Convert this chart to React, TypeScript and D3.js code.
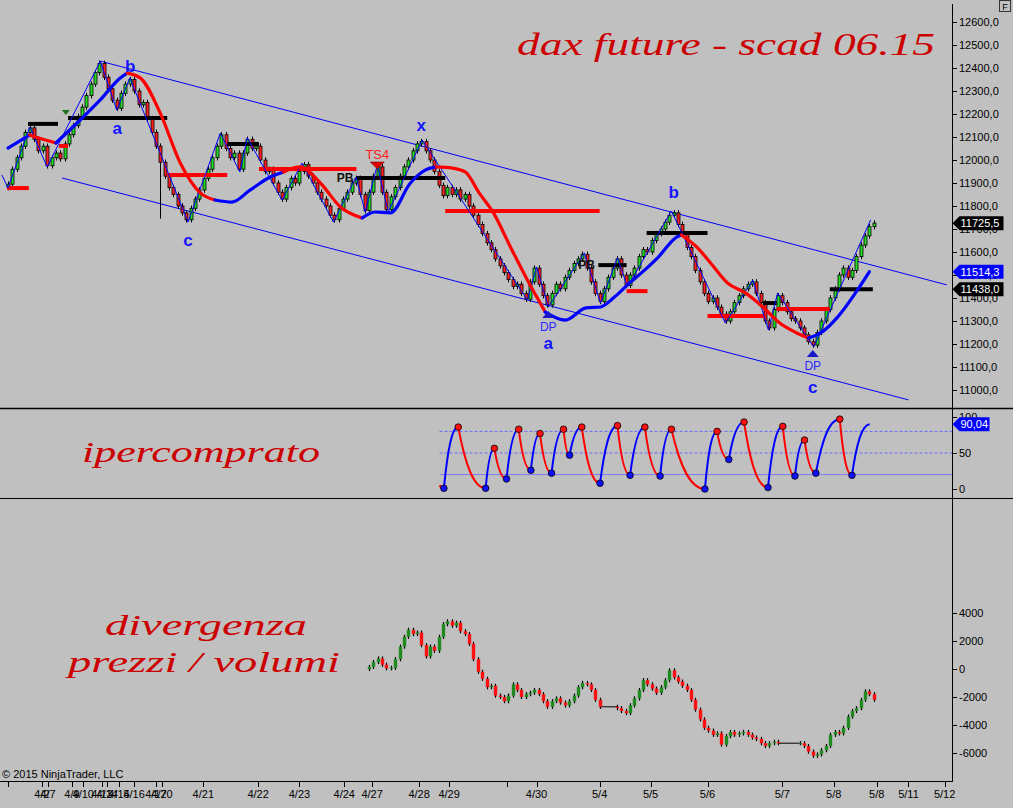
import React from 'react';
import * as d3 from 'd3';

// ---------- DATA ----------
const closes: number[] = [
  11895, 11960, 12010, 12060, 12120, 12140, 12090, 12040, 12060, 11975,
  12010, 12030, 12005, 12070, 12110, 12150, 12190, 12230, 12280, 12330, 12380, 12420,
  12360, 12310, 12260, 12225, 12290, 12330, 12350,
  12300, 12240, 12250, 12180, 12120, 12060, 11990, 11930, 11880, 11850, 11800, 11770, 11740,
  11790, 11830, 11870, 11920, 11960, 12010, 12060, 12110,
  12050, 12010, 12030, 11960, 12030, 12090,
  12050, 12060, 12000, 11950, 11960, 11900, 11860, 11830,
  11880, 11920, 11900, 11950, 11980,
  11930, 11900, 11860, 11830, 11800, 11760, 11740,
  11790, 11830, 11860, 11900, 11920,
  11850, 11780,
  11860, 11930, 11970,
  11860, 11785,
  11840, 11880, 11930, 11970, 12000, 12040, 12070, 12080,
  12040, 12000, 11950, 11890, 11845,
  11880, 11850, 11870, 11830, 11850, 11800,
  11760, 11720, 11680, 11640, 11610, 11570, 11540, 11510, 11480, 11450, 11460, 11420, 11395,
  11470, 11530,
  11460, 11410, 11370,
  11420, 11460, 11440, 11490, 11520, 11550, 11570, 11590,
  11530, 11470, 11420, 11385,
  11440, 11490, 11530, 11570,
  11500, 11455,
  11500, 11530, 11580, 11610, 11600, 11650, 11680, 11700, 11730, 11760, 11770,
  11720, 11680, 11620, 11580, 11520, 11470, 11420, 11385,
  11400, 11360, 11330, 11300,
  11340, 11380, 11410, 11440, 11460, 11470,
  11420, 11380, 11300, 11270,
  11350, 11410,
  11380, 11340, 11310, 11300, 11270, 11240, 11210, 11195,
  11250, 11300, 11350, 11400, 11440, 11500, 11530,
  11490, 11520, 11580, 11630, 11670, 11710, 11725.5,
];
const firstOpen = 11880;
const longWickBars = [35];
const longWickLows = [11745];

const priceTickValues = [11000, 11100, 11200, 11300, 11400, 11500, 11600, 11700, 11800, 11900, 12000, 12100, 12200, 12300, 12400, 12500, 12600];
const oscTickValues = [0, 50, 100];
const volTickValues = [4000, 2000, 0, -2000, -4000, -6000];

const dateTickIdx = [0, 7.8, 9.2, 14.7, 17.3, 21.6, 22.8, 25.5, 29, 34, 35.4, 44.9, 57.5, 67, 77.3, 83.7, 94.5, 101.4, 114.8, 121.5, 136, 147.7, 160.8, 178, 189.8, 199.7, 207, 215.3];
const dateTickLabels = ['', '4/2', '4/7', '4/9', '4/10', '4/13', '4/14', '4/15', '4/16', '4/17', '4/20', '4/21', '4/22', '4/23', '4/24', '4/27', '4/28', '4/29', '', '4/30', '5/4', '5/5', '5/6', '5/7', '5/8', '5/8', '5/11', '5/12'];

const channelUpper: [number, number][] = [[21.2, 12430], [215.8, 11457]];
const channelLower: [number, number][] = [[12.4, 11922], [207, 10957]];

const zigzag: [number, number][] = [
  [-1.4, 11935], [0, 11878], [5, 12143], [9, 11970], [21.2, 12430], [25, 12217], [28, 12357], [41.4, 11730],
  [48.8, 12117], [53.3, 11948], [55, 12096], [63, 11826], [67.6, 11987], [74.8, 11730], [80, 11926],
  [82.1, 11774], [84.9, 11978], [87.4, 11774], [95.2, 12087], [119.4, 11391], [121.5, 11535],
  [124.2, 11361], [132.5, 11596], [136.2, 11378], [140.1, 11574], [142.4, 11448], [152.5, 11778],
  [164.9, 11291], [171.2, 11478], [174.8, 11261], [176.9, 11422], [185.2, 11187], [198.3, 11740],
];

const maColors = ['blue', 'red', 'blue', 'red', 'blue', 'red', 'blue', 'red', 'blue', 'red', 'blue'];
const maPoints: [number, number][][] = [
  [[0, 12052], [5, 12109]],
  [[5, 12109], [8, 12090], [11, 12074]],
  [[11, 12074], [16.6, 12174], [21.2, 12261], [25.8, 12357], [27.4, 12378]],
  [[27.4, 12378], [30.4, 12357], [35, 12204], [39.6, 11987], [44.2, 11857], [47.6, 11826]],
  [[47.6, 11826], [51.5, 11817], [55.7, 11870], [60.3, 11926], [63.3, 11948]],
  [[63.3, 11948], [67.2, 11970], [71.8, 11900], [76.4, 11796], [81.4, 11748]],
  [[81.4, 11748], [84.4, 11774], [87.9, 11770], [92.5, 11900], [96, 11957], [98.5, 11970]],
  [[98.5, 11970], [102.2, 11965], [105.1, 11948], [108.3, 11857], [111.6, 11770], [115.5, 11622], [119.4, 11478], [123.5, 11339]],
  [[123.5, 11339], [128.1, 11304], [132.9, 11357], [136.2, 11361], [139.4, 11404], [142.4, 11457], [145.6, 11509], [149.5, 11578], [153.7, 11665], [154.8, 11674]],
  [[154.8, 11674], [158.3, 11622], [161.5, 11552], [165.4, 11465], [169.5, 11422], [173.5, 11361], [177.4, 11291], [181.3, 11248], [184, 11226]],
  [[184, 11226], [186.8, 11248], [190.7, 11317], [194.8, 11422], [198, 11514.3]],
];

const levelFrom = [-0.2, 4.6, 11.7, 13.8, 36.6, 50.4, 57.7, 80.1, 100.5, 135.7, 142.2, 146.8, 160.8, 173.5, 176.7, 188.9];
const levelTo = [4.8, 11.5, 13.8, 36.6, 50.4, 57.7, 80.1, 100.5, 136, 142.2, 147, 160.8, 174.1, 176.7, 188.9, 198.8];
const levelPrice = [11878, 12157, 12061, 12183, 11935, 12070, 11961, 11922, 11778, 11543, 11430, 11683, 11322, 11378, 11352, 11438];
const levelColor = ['red', 'black', 'red', 'black', 'red', 'black', 'red', 'black', 'red', 'black', 'red', 'black', 'red', 'black', 'red', 'black'];

const waveLabels = ['b', 'a', 'c', 'x', 'a', 'b', 'c'];
const waveIdx = [28.1, 25.1, 41.4, 95, 124.2, 153, 185];
const wavePrice = [12409, 12139, 11652, 12152, 11204, 11861, 11013];

const dpIdx = [124.2, 185];
const dpPrice = [11326, 11157];
const pbIdx = [77.5, 133];
const pbPrice = [11922, 11543];
const ts4 = { idx: 84.9, price: 11974 };
const greenMark = { idx: 13.3, price: 12209 };

const maLast = 11514.3;
const levelLast = 11438;

const oscPivots: [number, number][] = [
  [99.2, 5], [100.2, 1], [103.5, 86], [109.8, 1], [111.8, 56.5], [114.6, 14], [117.4, 83], [120.2, 26],
  [122.3, 77], [124.95, 22], [127.7, 83], [129.1, 47], [131.9, 86], [136.1, 8], [140.1, 88], [143, 19],
  [146.4, 86], [149.9, 18], [152.5, 83], [160.2, 0], [163, 80], [165.7, 41], [169.2, 93], [174.7, 2],
  [178.1, 87], [180.9, 18], [183.1, 68], [185.7, 22], [191.2, 97], [194, 19], [198.1, 90.04],
];
const oscLevelsDashed = [80, 50];
const oscLevelSolid = 20;

const volStart = 83;
const volValues: (number | null)[] = [
  150, 500, 750, 300, 50, 80, 700, 1600, 2300, 2800, 2500, 2600, 1700, 900, 1600, 1300, 2300,
  3200, 3400, 3100, 3300, 2700, 2500, 1800, 700, -200, -700, -1300, -1200, -1900, -2000, -2300, -1900, -1100, -1500, -2000, -1800,
  -1700, -1500, -1800, -2300, -2700, -2300, -2100, -2400, -2600, -2300, -1900, -1300, -1000, -1100, -1500, -2200, -2700, null, null, null,
  -2800, -3000, -3150, -2600, -2100, -1500, -800, -1100, -1400, -1700, -1300, -800, -100, -600, -900, -1200, -1500, -2200, -2900, -3600,
  -4200, -4400, -4700, -4600, -5400, -4800, -4500, -4700, -4600, -4500, -4700, -4900, -5000, -5300, -5500, -5300, -5200, -5300, null, null,
  null, null, -5300, -5500, -5900, -6200, -6100, -5800, -5500, -4700, -4500, -4600, -4200, -3400, -3000, -2800, -2200, -1600, -1800, -2200,
];

// ---------- LAYOUT ----------
const W = 1013;
const H = 808;
const AXIS_X = 952;
const sans = "'Liberation Sans', Arial, Helvetica, sans-serif";
const script = "'Liberation Serif', 'DejaVu Serif', serif";
const BLUE = '#0000ff';
const RED = '#ff0000';

const x = d3.scaleLinear().domain([0, 217]).range([8, AXIS_X]);
const py = d3.scaleLinear().domain([11000, 12600]).range([390, 22]);
const oy = d3.scaleLinear().domain([0, 100]).range([489, 417]);
const vy = d3.scaleLinear().domain([-6000, 4000]).range([753, 613]);

const fmt1 = (v: number) => v.toFixed(1).replace('.', ',');
const fmt2 = (v: number) => v.toFixed(2).replace('.', ',');

function Tag({ y, text, fill, w }: { y: number; text: string; fill: string; w: number }) {
  const x0 = AXIS_X + 0.5;
  return (
    <g>
      <path d={`M${x0},${y} L${x0 + 7},${y - 7} L${x0 + w},${y - 7} L${x0 + w},${y + 7} L${x0 + 7},${y + 7} Z`} fill={fill} />
      <text x={x0 + 8} y={y} dy="0.36em" fill="#fff" fontSize={11} fontFamily={sans}>{text}</text>
    </g>
  );
}

export default function App() {
  const lineP = d3.line<[number, number]>().x(d => x(d[0])).y(d => py(d[1]));
  const maLine = d3.line<[number, number]>().x(d => x(d[0])).y(d => py(d[1])).curve(d3.curveMonotoneX);

  const wick = 12;
  const candles = closes.map((c, i) => {
    const o = i === 0 ? firstOpen : closes[i - 1];
    const hi = Math.max(o, c) + wick;
    let lo = Math.min(o, c) - wick;
    const k = longWickBars.indexOf(i);
    if (k >= 0) lo = longWickLows[k];
    return { i, o, c, hi, lo };
  });

  // volume divergence bars
  const volBars: { i: number; o: number; c: number }[] = [];
  const volGaps: { a: number; b: number; v: number }[] = [];
  let last: number | null = null;
  let lastIdx = -1;
  let inGap = false;
  volValues.forEach((v, k) => {
    const i = volStart + k;
    if (v === null) {
      inGap = true;
      return;
    }
    if (inGap && last !== null) {
      volGaps.push({ a: lastIdx, b: i, v: last });
    }
    inGap = false;
    const o = last === null ? 0 : last;
    volBars.push({ i, o, c: v });
    last = v;
    lastIdx = i;
  });

  const oscSeg = (p0: [number, number], p1: [number, number]) => {
    const x0 = x(p0[0]), y0 = oy(p0[1]), x1 = x(p1[0]), y1 = oy(p1[1]);
    const dx = x1 - x0, dy = y1 - y0;
    const p = d3.path();
    p.moveTo(x0, y0);
    p.bezierCurveTo(x0 + dx * 0.25, y0 + dy * 0.6, x0 + dx * 0.55, y1, x1, y1);
    return p.toString();
  };

  const oscStartX = x(oscPivots[0][0]);
  const lastClose = closes[closes.length - 1];
  const lastOsc = oscPivots[oscPivots.length - 1][1];

  return (
    <svg width={W} height={H} style={{ position: 'absolute', left: 0, top: 0 }} xmlns="http://www.w3.org/2000/svg">
      <defs>
        <clipPath id="clipTop"><rect x={0} y={0} width={AXIS_X} height={408} /></clipPath>
        <clipPath id="clipMid"><rect x={0} y={410} width={AXIS_X} height={88} /></clipPath>
        <clipPath id="clipBot"><rect x={0} y={500} width={AXIS_X} height={281} /></clipPath>
      </defs>
      <rect x={0} y={0} width={W} height={H} fill="#c0c0c0" />

      {/* ---------- TOP PANEL ---------- */}
      <g clipPath="url(#clipTop)">
        <path d={lineP(channelUpper) || ''} stroke={BLUE} strokeWidth={1} fill="none" />
        <path d={lineP(channelLower) || ''} stroke={BLUE} strokeWidth={1} fill="none" />

        {/* candles */}
        {candles.map(d => {
          const cx = Math.round(x(d.i)) + 0.5;
          const top = py(Math.max(d.o, d.c));
          const bot = py(Math.min(d.o, d.c));
          return (
            <g key={d.i}>
              <line x1={cx} x2={cx} y1={py(d.hi)} y2={py(d.lo)} stroke="#000" strokeWidth={1} />
              <rect x={cx - 1.5} y={top} width={3} height={Math.max(1, bot - top)} fill={d.c >= d.o ? '#22dd22' : '#ff2020'} stroke="#000" strokeWidth={0.8} />
            </g>
          );
        })}

        {/* levels */}
        {levelPrice.map((p, k) => (
          <line key={k} x1={x(levelFrom[k])} x2={x(levelTo[k])} y1={py(p)} y2={py(p)} stroke={levelColor[k] === 'red' ? RED : '#000'} strokeWidth={4} />
        ))}

        {/* zigzag */}
        <path d={lineP(zigzag) || ''} stroke={BLUE} strokeWidth={1} fill="none" />

        {/* moving average */}
        {maPoints.map((pts, k) => (
          <path key={k} d={maLine(pts) || ''} stroke={maColors[k] === 'red' ? RED : BLUE} strokeWidth={3.2} fill="none" strokeLinecap="round" />
        ))}

        {/* annotations */}
        {waveLabels.map((t, k) => (
          <text key={k} x={x(waveIdx[k])} y={py(wavePrice[k])} dy="0.35em" textAnchor="middle" fontFamily={sans} fontWeight="bold" fontSize={17} fill="#1414ff">{t}</text>
        ))}
        {dpIdx.map((d, k) => {
          const cx = x(d);
          const ty = py(dpPrice[k]);
          return (
            <g key={k}>
              <path d={`M${cx},${ty - 4} L${cx + 6},${ty + 3} L${cx - 6},${ty + 3} Z`} fill="#1818c8" />
              <text x={cx} y={ty + 12} dy="0.35em" textAnchor="middle" fontFamily={sans} fontSize={12} fill="#2a2aff">DP</text>
            </g>
          );
        })}
        {pbIdx.map((d, k) => (
          <text key={k} x={x(d)} y={py(pbPrice[k])} dy="0.35em" textAnchor="middle" fontFamily={sans} fontWeight="bold" fontSize={12} fill="#111">PB</text>
        ))}
        <g>
          <text x={x(ts4.idx)} y={py(ts4.price) - 12} dy="0.35em" textAnchor="middle" fontFamily={sans} fontSize={13} fill="#ff1a1a">TS4</text>
          <path d={`M${x(ts4.idx) - 7},${py(ts4.price) - 4} L${x(ts4.idx) + 7},${py(ts4.price) - 4} L${x(ts4.idx)},${py(ts4.price) + 3} Z`} fill="#e00000" stroke="#600" strokeWidth={0.5} />
        </g>
        <path d={`M${x(greenMark.idx) - 4},${py(greenMark.price) - 2} L${x(greenMark.idx) + 4},${py(greenMark.price) - 2} L${x(greenMark.idx)},${py(greenMark.price) + 3} Z`} fill="#1f6f1f" />
      </g>

      {/* title */}
      <text x={517} y={55} fontFamily={script} fontStyle="italic" fontSize={32} fill="#cc0000" textLength={418} lengthAdjust="spacingAndGlyphs">dax future  - scad 06.15</text>

      {/* ---------- MIDDLE PANEL ---------- */}
      <g clipPath="url(#clipMid)">
        {oscLevelsDashed.map(v => (
          <line key={v} x1={oscStartX} x2={AXIS_X} y1={oy(v)} y2={oy(v)} stroke="#6a6aff" strokeWidth={1} strokeDasharray="3,2" />
        ))}
        <line x1={oscStartX} x2={AXIS_X} y1={oy(oscLevelSolid)} y2={oy(oscLevelSolid)} stroke="#7a7aff" strokeWidth={1} />
        {oscPivots.slice(1).map((p1, k) => {
          const p0 = oscPivots[k];
          return <path key={k} d={oscSeg(p0, p1)} stroke={p1[1] > p0[1] ? BLUE : RED} strokeWidth={2} fill="none" />;
        })}
        {oscPivots.slice(1, -1).map((p, k) => {
          const prev = oscPivots[k];
          const isPeak = p[1] > prev[1];
          return <circle key={k} cx={x(p[0])} cy={oy(p[1])} r={3.3} fill={isPeak ? '#ff1010' : '#1010ff'} stroke="#000" strokeWidth={0.8} />;
        })}
      </g>
      <text x={82} y={462} fontFamily={script} fontStyle="italic" fontSize={29} fill="#cc0000" textLength={238} lengthAdjust="spacingAndGlyphs">ipercomprato</text>

      {/* ---------- BOTTOM PANEL ---------- */}
      <g clipPath="url(#clipBot)">
        {volGaps.map((g, k) => (
          <line key={k} x1={x(g.a)} x2={x(g.b)} y1={vy(g.v)} y2={vy(g.v)} stroke="#000" strokeWidth={1} />
        ))}
        {volBars.map(d => {
          const cx = Math.round(x(d.i)) + 0.5;
          const top = vy(Math.max(d.o, d.c));
          const bot = vy(Math.min(d.o, d.c));
          return (
            <g key={d.i}>
              <line x1={cx} x2={cx} y1={vy(Math.max(d.o, d.c) + 150)} y2={vy(Math.min(d.o, d.c) - 150)} stroke="#000" strokeWidth={1.2} />
              <rect x={cx - 1.7} y={top} width={3.4} height={Math.max(1, bot - top)} fill={d.c >= d.o ? '#1f8a1f' : '#ff1010'} />
            </g>
          );
        })}
      </g>
      <text x={105} y={635} fontFamily={script} fontStyle="italic" fontSize={30} fill="#cc0000" textLength={202} lengthAdjust="spacingAndGlyphs">divergenza</text>
      <text x={68} y={672} fontFamily={script} fontStyle="italic" fontSize={30} fill="#cc0000" textLength={272} lengthAdjust="spacingAndGlyphs">prezzi / volumi</text>

      {/* ---------- FRAME / AXES ---------- */}
      <line x1={0} x2={W} y1={408.5} y2={408.5} stroke="#000" strokeWidth={1.5} />
      <line x1={0} x2={W} y1={498.5} y2={498.5} stroke="#000" strokeWidth={1} />
      <line x1={AXIS_X + 0.5} x2={AXIS_X + 0.5} y1={4} y2={781} stroke="#000" strokeWidth={1} />
      <line x1={0} x2={AXIS_X + 1} y1={781.5} y2={781.5} stroke="#000" strokeWidth={1} />

      {/* price axis */}
      {priceTickValues.map(v => (
        <g key={v}>
          <line x1={AXIS_X} x2={AXIS_X + 5} y1={Math.round(py(v)) + 0.5} y2={Math.round(py(v)) + 0.5} stroke="#000" />
          <text x={AXIS_X + 7} y={py(v)} dy="0.36em" fontFamily={sans} fontSize={11} fill="#000">{fmt1(v)}</text>
        </g>
      ))}
      {/* osc axis */}
      {oscTickValues.map(v => (
        <g key={v}>
          <line x1={AXIS_X} x2={AXIS_X + 5} y1={Math.round(oy(v)) + 0.5} y2={Math.round(oy(v)) + 0.5} stroke="#000" />
          <text x={AXIS_X + 7} y={oy(v)} dy="0.36em" fontFamily={sans} fontSize={11} fill="#000">{v}</text>
        </g>
      ))}
      {/* vol axis */}
      {volTickValues.map(v => (
        <g key={v}>
          <line x1={AXIS_X} x2={AXIS_X + 5} y1={Math.round(vy(v)) + 0.5} y2={Math.round(vy(v)) + 0.5} stroke="#000" />
          <text x={AXIS_X + 7} y={vy(v)} dy="0.36em" fontFamily={sans} fontSize={11} fill="#000">{v}</text>
        </g>
      ))}
      {/* date axis */}
      {dateTickIdx.map((d, k) => (
        <g key={k}>
          <line x1={Math.round(x(d)) + 0.5} x2={Math.round(x(d)) + 0.5} y1={781} y2={787} stroke="#000" />
          <text x={x(d)} y={798} textAnchor="middle" fontFamily={sans} fontSize={11} fill="#000">{dateTickLabels[k]}</text>
        </g>
      ))}

      {/* value tags */}
      <Tag y={py(lastClose)} text={fmt1(lastClose)} fill="#000" w={51} />
      <Tag y={py(maLast)} text={fmt1(maLast)} fill="#0000ff" w={51} />
      <Tag y={py(levelLast)} text={fmt1(levelLast)} fill="#000" w={51} />
      <Tag y={oy(lastOsc)} text={fmt2(lastOsc)} fill="#0000ff" w={37} />

      {/* F box */}
      <rect x={999.5} y={0.5} width={11} height={11} fill="#c0c0c0" stroke="#333" strokeWidth={1} />
      <text x={1005} y={9.5} textAnchor="middle" fontFamily={sans} fontSize={9} fill="#000">F</text>

      <text x={2} y={778} fontFamily={sans} fontSize={11} fill="#000">© 2015 NinjaTrader, LLC</text>
    </svg>
  );
}
